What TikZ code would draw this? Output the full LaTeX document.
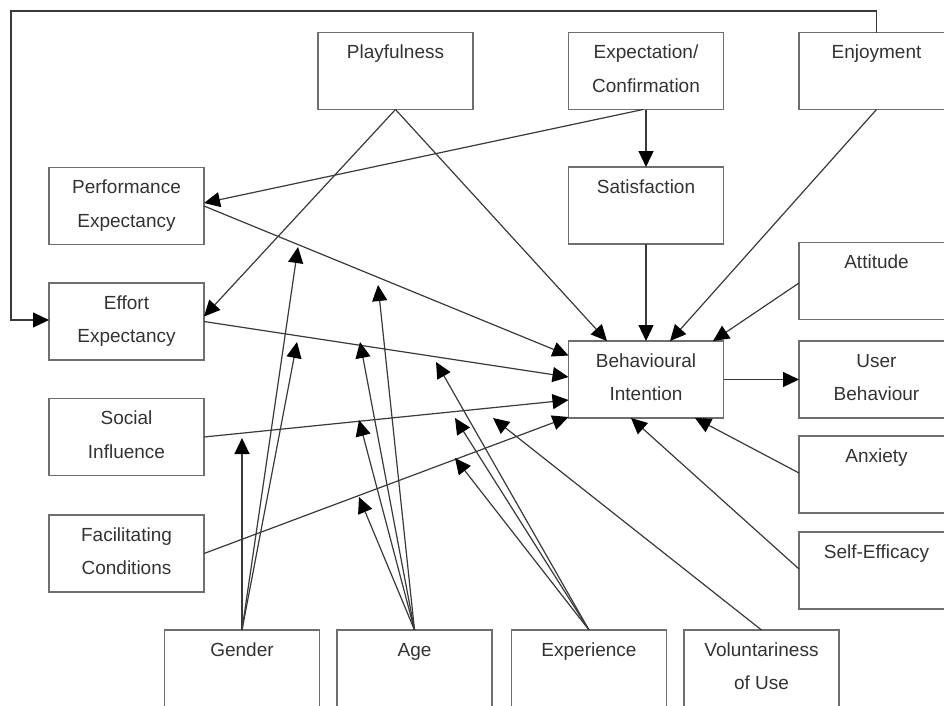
\documentclass[tikz,border=0pt]{standalone}
\usepackage{fontspec}
\setmainfont{Liberation Sans}
\usetikzlibrary{arrows.meta}

\definecolor{boxline}{HTML}{6E6E6E}
\definecolor{linkline}{HTML}{3A3A3A}
\definecolor{labeltext}{HTML}{333333}

% box content: fixed 155 x 77 frame, text hung from the top
\newcommand{\bxtext}[1]{\parbox[t][77pt][t]{155pt}{\centering\rule{0pt}{26pt}#1}}

\tikzset{
  cbox/.style={draw=boxline, line width=1.3pt, inner sep=0pt, outer sep=0pt,
    text=labeltext, font={\fontsize{19pt}{33.5pt}\selectfont}},
  link/.style={draw=linkline, line width=1.2pt,
    -{Triangle[length=16pt,width=15pt,color=black]}}
}

\begin{document}
\begin{tikzpicture}[x=1pt, y=-1pt]
\useasboundingbox (0,0) rectangle (944,705);
\fill[white] (0,0) rectangle (944,705);
\clip (0,0) rectangle (944,705);

% constructs
\node[cbox] (pl) at (395.5,71)  {\bxtext{Playfulness}};
\node[cbox] (ec) at (646,71)    {\bxtext{Expectation/\\Confirmation}};
\node[cbox] (en) at (876.5,71)  {\bxtext{Enjoyment}};
\node[cbox] (sa) at (646,205.5) {\bxtext{Satisfaction}};
\node[cbox] (pe) at (126.5,206) {\bxtext{Performance\\Expectancy}};
\node[cbox] (ee) at (126.5,321.5) {\bxtext{Effort\\Expectancy}};
\node[cbox] (si) at (126.5,437) {\bxtext{Social\\Influence}};
\node[cbox] (fc) at (126.5,553.5) {\bxtext{Facilitating\\Conditions}};
\node[cbox] (bi) at (646,379.5) {\bxtext{Behavioural\\Intention}};
\node[cbox] (at) at (876.5,281) {\bxtext{Attitude}};
\node[cbox] (ub) at (876.5,379.5) {\bxtext{User\\Behaviour}};
\node[cbox] (ax) at (876.5,474.5) {\bxtext{Anxiety}};
\node[cbox] (se) at (876.5,570.5) {\bxtext{Self-Efficacy}};

% moderators
\node[cbox] (ge) at (242,668.5)   {\bxtext{Gender}};
\node[cbox] (ag) at (414.5,668.5) {\bxtext{Age}};
\node[cbox] (ex) at (589,668.5)   {\bxtext{Experience}};
\node[cbox] (vo) at (761.5,668.5) {\bxtext{Voluntariness\\of Use}};

% feedback loop from Enjoyment round to Effort Expectancy
\coordinate (loopcorner) at (11,11);
\draw[link] (en.north) |- (loopcorner) |- ([yshift=1.5pt]ee.west);

% direct paths
\draw[link] (pl.south) -- ([yshift=5pt]ee.east);
\draw[link] (pl.south) -- ([xshift=-39pt]bi.north);
\draw[link] ([xshift=-3pt]ec.south) -- ([yshift=3pt]pe.east);
\draw[link] (ec.south) -- (sa.north);
\draw[link] (sa.south) -- (bi.north);
\draw[link] (en.south) -- ([xshift=24pt]bi.north);
\draw[link] ([yshift=-2pt]at.west) -- ([xshift=67pt]bi.north);
\draw[link] (pe.east) -- ([yshift=24pt]bi.west);
\draw[link] (ee.east) -- ([yshift=2.5pt]bi.west);
\draw[link] (si.east) -- ([yshift=-20.5pt]bi.west);
\draw[link] (fc.east) -- ([yshift=1pt]bi.south west);
\draw[link] (bi.east) -- (ub.west);
\draw[link] ([yshift=1.5pt]ax.west) -- ([xshift=49pt]bi.south);
\draw[link] ([yshift=1.5pt]se.west) -- ([xshift=-15pt]bi.south);

% moderation targets on the paths
\coordinate (gSI) at (242,438);
\coordinate (gPE) at (298,247);
\coordinate (gEE) at (297,342);
\coordinate (aPE) at (378,285);
\coordinate (aEE) at (360,342);
\coordinate (aSI) at (359,420);
\coordinate (aFC) at (359,497);
\coordinate (xEE) at (436,362);
\coordinate (xSI) at (455,418);
\coordinate (xFC) at (455,458);
\coordinate (vBI) at (493,418);

\draw[link] (ge.north) -- (gSI);
\draw[link] (ge.north) -- (gPE);
\draw[link] (ge.north) -- (gEE);
\draw[link] (ag.north) -- (aPE);
\draw[link] (ag.north) -- (aEE);
\draw[link] (ag.north) -- (aSI);
\draw[link] (ag.north) -- (aFC);
\draw[link] (ex.north) -- (xEE);
\draw[link] (ex.north) -- (xSI);
\draw[link] (ex.north) -- (xFC);
\draw[link] (vo.north) -- (vBI);
\end{tikzpicture}
\end{document}
